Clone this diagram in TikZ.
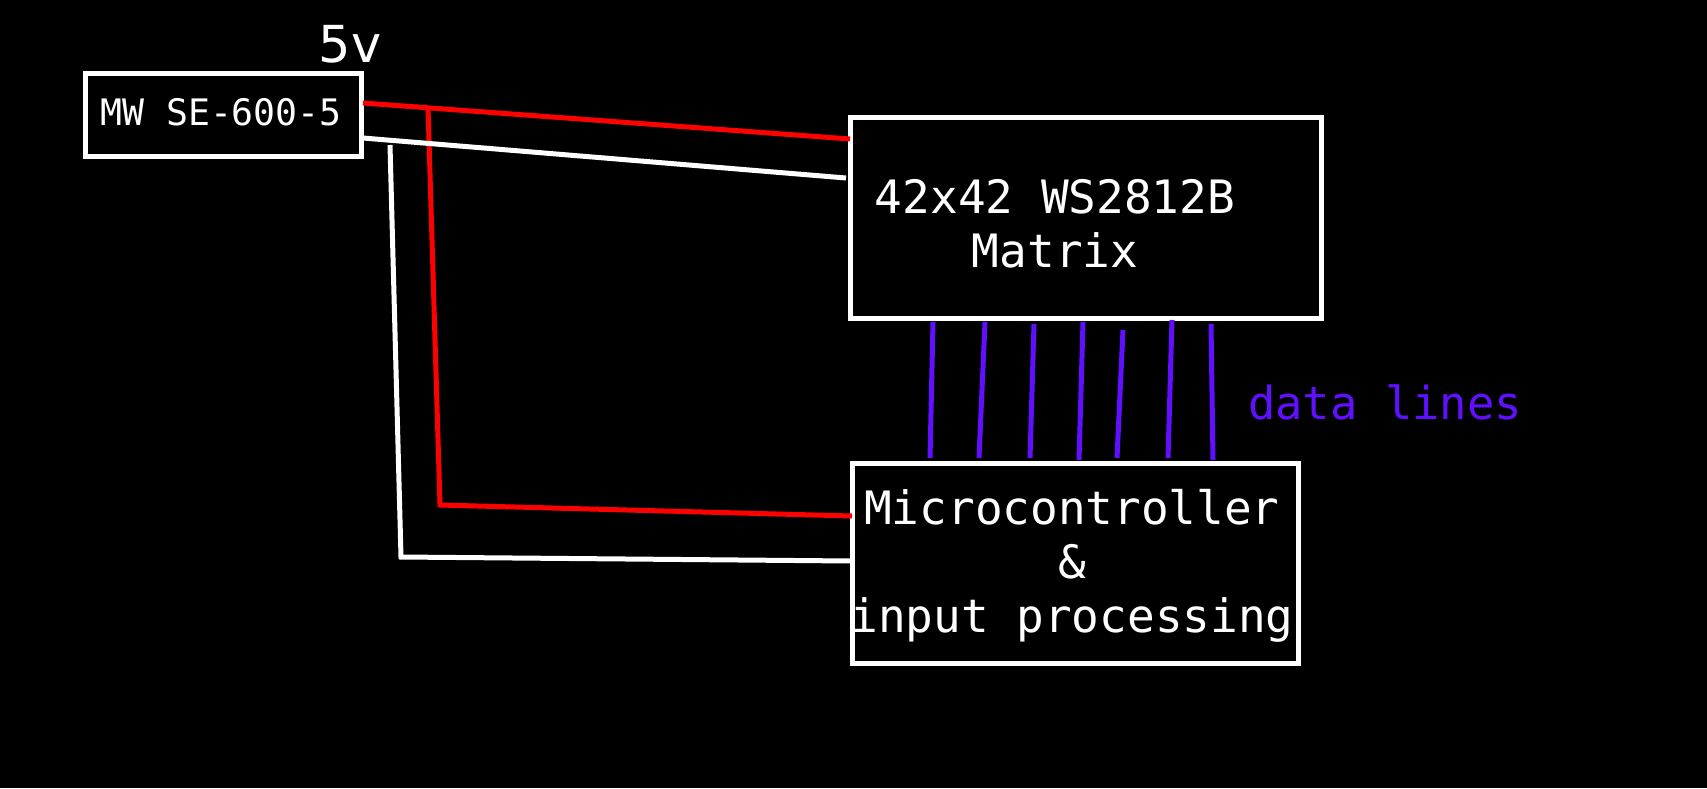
\documentclass[tikz,border=0pt]{standalone}
\usepackage{fontspec}
\newfontfamily\mono{DejaVu Sans Mono}
\newfontfamily\dsans{DejaVu Sans}
\definecolor{dl}{HTML}{6010FF}
\definecolor{rd}{HTML}{FF0000}
\begin{document}
\begin{tikzpicture}[x=1pt,y=-1pt,line width=5pt,
  box/.style={draw=white,line width=5pt,line join=miter},
  lbl/.style={text=white,font=\mono\fontsize{46}{54}\selectfont,align=center}]
\fill[black] (0,0) rectangle (1707,788);
\useasboundingbox (0,0) rectangle (1707,788);
\draw[box] (85,73) rectangle (361,156);
\draw[box] (850,117) rectangle (1321,318);
\draw[box] (852,463) rectangle (1298,663);
\node[lbl,font=\mono\fontsize{36.5}{40}\selectfont] (mw) at (221,112) {MW SE-600-5};
\node[lbl] (mx) at (1055,224) {42x42 WS2812B\\Matrix};
\node[lbl] (mc) at (1072,566) {Microcontroller\\\&\\input processing};
\node[text=white,font=\dsans\fontsize{51}{56}\selectfont] (v5) at (350,44) {5v};
\node[text=dl,font=\mono\fontsize{45.5}{50}\selectfont] (dlt) at (1385,402) {data lines};
\draw[rd] (363,103) -- (850,139);
\draw[rd] (428,107) -- (440,505) -- (852,516);
\draw[white] (363,138) -- (846,178);
\draw[white] (390,145) -- (401,557) -- (852,561);
\foreach \a/\b/\c/\d in {933/322/930/458,985/322/979/458,1034/324/1030/458,1083/322/1079/460,1123/330/1117/458,1172/320/1168/458,1211/324/1213/460}
  \draw[dl] (\a,\b) -- (\c,\d);
\end{tikzpicture}
\end{document}
